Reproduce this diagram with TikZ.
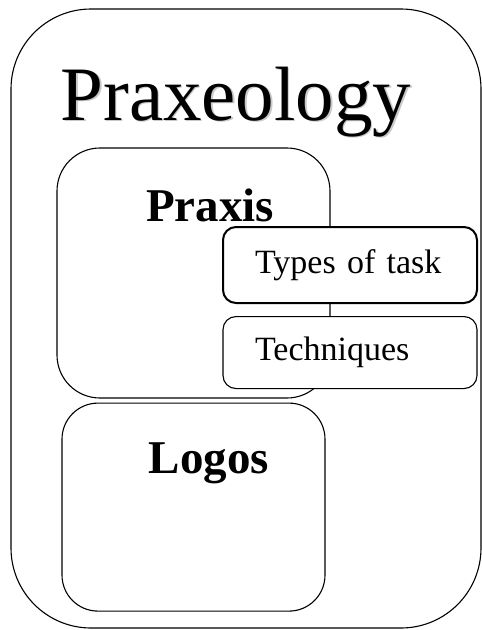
\documentclass[tikz,border=0pt]{standalone}
\usepackage{fontspec}
\setmainfont{LiberationSerif}[Extension=.ttf, UprightFont=*-Regular,
  BoldFont=*-Bold, ItalicFont=*-Italic, BoldItalicFont=*-BoldItalic]
\usetikzlibrary{positioning}

\tikzset{
  roundbox/.style={draw, fill=white, line width=1.1pt, rounded corners=#1},
  itembox/.style={roundbox=13pt, text width=190pt, align=left,
    inner xsep=32pt, inner ysep=0pt,
    font=\fontsize{34}{38}\selectfont},
  boxtitle/.style={anchor=base, inner sep=0pt,
    font=\fontsize{47}{50}\selectfont\bfseries}
}

\begin{document}
\begin{tikzpicture}[x=1pt,y=-1pt]
  \useasboundingbox (0,0) rectangle (482,630);
  % outer frame
  \node[roundbox=80pt, minimum width=470pt, minimum height=619pt]
    (praxeology) at (246,318.5) {};
  \node[anchor=base, inner sep=0pt, text=black!35, opacity=0.6,
    font=\fontsize{77}{80}\selectfont] at (237.5,121.5) {Praxeology};
  \node[anchor=base, inner sep=0pt, font=\fontsize{77}{80}\selectfont]
    (praxeologytitle) at (236,120) {Praxeology};

  % the two blocks
  \node[roundbox=43pt, minimum width=273pt, minimum height=250pt]
    (praxis) at (193.5,273) {};
  \node[roundbox=36pt, minimum width=263pt, minimum height=208pt,
    below=4pt of praxis] (logos) {};
  \node[boxtitle] (praxistitle) at (210,221) {Praxis};
  \node[boxtitle] (logostitle) at (209,473) {Logos};

  % parts of the praxis
  \node[itembox, line width=2pt, minimum height=76pt]
    (types) at (350,265) {Types of task};
  \node[itembox, minimum height=72pt, below=12pt of types]
    (techniques) {Techniques};
\end{tikzpicture}
\end{document}
